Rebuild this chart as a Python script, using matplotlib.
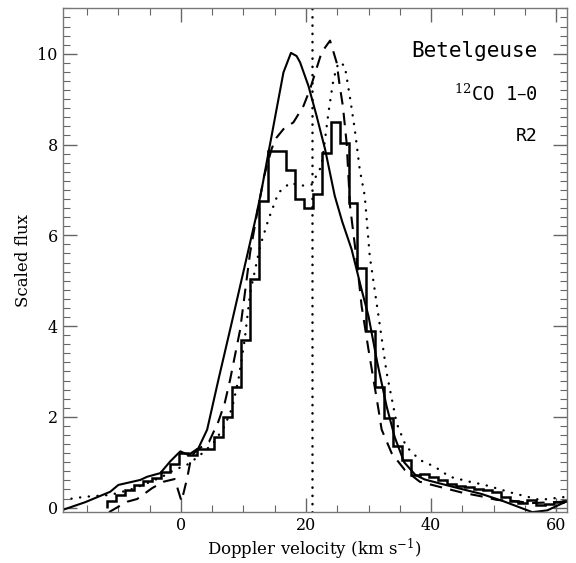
import matplotlib
matplotlib.use("Agg")
import matplotlib.pyplot as plt
from matplotlib.ticker import MultipleLocator

# ---- data ----
# observed spectrum (histogram): bin edges (km/s) and scaled flux
hist_edges = [-11.80, -10.37, -8.94, -7.51, -6.08, -4.65, -3.22, -1.79, -0.36, 1.07,
              2.50, 3.93, 5.36, 6.79, 8.22, 9.65, 11.08, 12.51, 13.94, 15.37,
              16.80, 18.23, 19.66, 21.09, 22.52, 23.95, 25.38, 26.81, 28.24, 29.67,
              31.10, 32.53, 33.96, 35.39, 36.82, 38.25, 39.68, 41.11, 42.54, 43.97,
              45.40, 46.83, 48.26, 49.69, 51.12, 52.55, 53.98, 55.41, 56.84, 58.27,
              59.70, 61.13, 62.56]
hist_flux = [0.15, 0.28, 0.38, 0.50, 0.58, 0.66, 0.78, 0.97, 1.20, 1.15,
             1.30, 1.30, 1.55, 2.00, 2.65, 3.70, 5.03, 6.75, 7.86, 7.86,
             7.45, 6.79, 6.61, 6.90, 7.82, 8.49, 8.04, 6.72, 5.28, 3.90,
             2.65, 1.97, 1.35, 1.05, 0.72, 0.74, 0.68, 0.61, 0.52, 0.48,
             0.45, 0.40, 0.38, 0.34, 0.24, 0.14, 0.10, 0.17, 0.06, 0.08,
             0.13, 0.15]

# model 1 (solid)
m1_v = [-18.9, -15.3, -11.3, -10.0, -6.5, -5.4, -3.3, -1.7, -0.1, 1.2, 2.8, 4.2,
        6.0, 8.0, 10.0, 12.0, 12.9, 14.0, 15.3, 16.4, 17.6, 18.5, 19.06, 20.4,
        21.7, 23.05, 24.6, 25.8, 27.3, 28.9, 30.0, 31.4, 32.9, 34.2, 35.7, 37.5,
        39.0, 41.2, 44.6, 48.1, 51.6, 53.9, 56.2, 58.6, 61.7]
m1_f = [-0.05, 0.12, 0.35, 0.50, 0.61, 0.68, 0.76, 1.02, 1.24, 1.16, 1.31, 1.72,
        2.82, 4.00, 5.20, 6.40, 7.00, 7.82, 8.78, 9.59, 10.02, 9.95, 9.81, 9.29,
        8.63, 7.90, 6.87, 6.30, 5.69, 4.80, 4.22, 3.20, 2.23, 1.55, 1.00, 0.72,
        0.62, 0.54, 0.42, 0.30, 0.14, 0.02, -0.10, -0.06, 0.14]

# model 2 (dashed)
m2_v = [-11.5, -10.0, -8.6, -7.0, -5.4, -4.6, -2.8, -1.0, 0.1, 1.0, 1.7, 2.9,
        4.5, 6.0, 7.0, 7.87, 9.47, 11.07, 12.2, 13.3, 14.5, 15.1, 16.4, 18.0,
        19.6, 20.65, 22.5, 23.85, 24.9, 25.4, 25.9, 26.5, 27.05, 28.1, 28.9,
        30.0, 31.6, 32.1, 33.7, 35.8, 38.2, 41.3, 45.0, 48.0, 50.5, 53.0,
        56.0, 60.0, 61.7]
m2_f = [-0.10, 0.02, 0.13, 0.19, 0.35, 0.43, 0.57, 0.63, 0.14, 0.65, 1.15, 1.30,
        1.45, 1.90, 2.30, 2.82, 3.92, 5.62, 6.50, 7.30, 7.90, 8.12, 8.34, 8.49,
        8.85, 9.22, 10.03, 10.29, 9.81, 9.29, 8.85, 8.04, 6.64, 5.47, 4.44,
        3.48, 2.16, 1.72, 1.20, 0.83, 0.57, 0.46, 0.33, 0.25, 0.17, 0.15,
        0.10, 0.12, 0.14]

# model 3 (dotted)
m3_v = [-18.9, -15.3, -11.3, -8.0, -5.2, -3.0, -1.2, 1.2, 3.1, 5.2, 7.0, 8.2,
        9.2, 10.2, 11.07, 12.67, 14.0, 15.6, 17.5, 19.1, 20.9, 22.5, 23.6, 24.4,
        25.2, 26.2, 27.0, 27.8, 28.6, 29.4, 30.2, 31.6, 32.9, 34.5, 36.0, 38.2,
        40.6, 43.0, 46.2, 48.6, 53.1, 57.4, 61.7]
m3_f = [0.17, 0.24, 0.28, 0.40, 0.55, 0.68, 0.82, 0.96, 1.16, 1.42, 1.80, 2.20,
        2.82, 3.70, 4.73, 5.76, 6.35, 6.94, 7.16, 7.09, 7.12, 7.53, 8.71, 9.44,
        9.81, 9.74, 9.07, 8.34, 7.45, 6.87, 5.54, 4.22, 2.97, 1.86, 1.35, 1.05,
        0.90, 0.68, 0.57, 0.50, 0.32, 0.17, 0.24]

v_sys = 20.9
labels = ["Betelgeuse", "$^{12}$CO 1\u20130", "R2"]

# ---- figure ----
plt.rcParams['font.family'] = ['DejaVu Serif']
plt.rcParams['mathtext.fontset'] = 'dejavuserif'

fig = plt.figure(figsize=(5.76, 5.63), dpi=100)
ax = fig.add_axes([0.1089, 0.0911, 0.875, 0.894])

ax.stairs(hist_flux, hist_edges, color='black', lw=1.8)
ax.plot(m1_v, m1_f, color='black', lw=1.5, ls='-')
ax.plot(m2_v, m2_f, color='black', lw=1.5, ls=(0, (6, 4)))
ax.plot(m3_v, m3_f, color='black', lw=1.7, ls=(0, (0.1, 3.6)),
        dash_capstyle='round')
ax.axvline(v_sys, color='black', lw=1.8, ls=(0, (0.1, 3.2)),
           dash_capstyle='round')

ax.set_xlim(-18.9, 61.7)
ax.set_ylim(-0.09, 11.0)

ax.xaxis.set_major_locator(MultipleLocator(20))
ax.xaxis.set_minor_locator(MultipleLocator(5))
ax.yaxis.set_major_locator(MultipleLocator(2))
ax.yaxis.set_minor_locator(MultipleLocator(0.2))
ax.tick_params(which='both', direction='in', top=True, right=True,
               color='#666666', labelsize=11.5)
ax.tick_params(which='major', length=10, width=1.0)
ax.tick_params(which='minor', length=5, width=0.8)
for s in ax.spines.values():
    s.set_color('#777777')
    s.set_linewidth(1.0)

ax.set_xlabel("Doppler velocity (km s$^{-1}$)", fontsize=12, labelpad=2)
ax.set_ylabel("Scaled flux", fontsize=12, labelpad=4)

ax.text(0.934, 0.910, labels[0], transform=fig.transFigure, ha='right', va='center',
        fontsize=15, family='DejaVu Sans Mono')
ax.text(0.934, 0.833, labels[1], transform=fig.transFigure, ha='right', va='center',
        fontsize=13.5, family='DejaVu Sans Mono')
ax.text(0.934, 0.758, labels[2], transform=fig.transFigure, ha='right', va='center',
        fontsize=13, family='DejaVu Sans Mono')

fig.savefig("out.png", dpi=100)
